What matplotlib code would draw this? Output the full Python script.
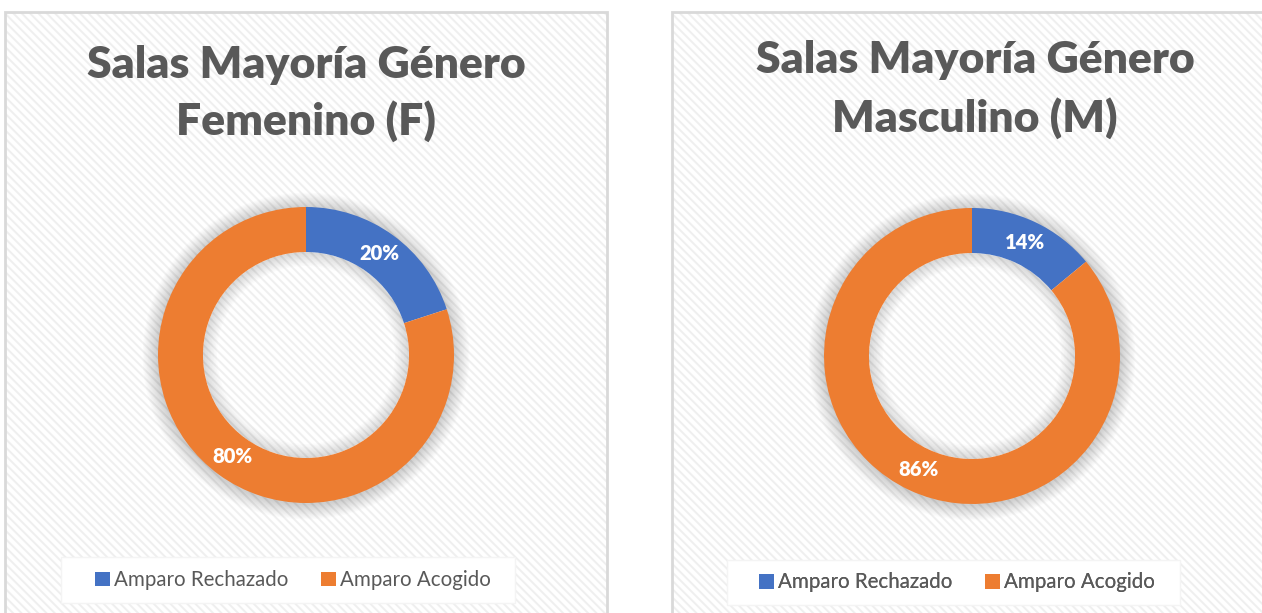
import matplotlib
matplotlib.use("Agg")
import matplotlib.pyplot as plt
from matplotlib.patches import Rectangle, Wedge

# Data
categories = ["Amparo Rechazado", "Amparo Acogido"]
fem_values = [20, 80]
masc_values = [14, 86]
titles = [("Salas Mayoría Género", "Femenino (F)"),
          ("Salas Mayoría Género", "Masculino (M)")]

# Colours
blue = "#4472C4"
orange = "#ED7D31"
text_color = "#595959"
hatch_color = "#efefef"

W, H = 1262, 613
plt.rcParams['font.family'] = ['Lato', 'DejaVu Sans']
plt.rcParams['hatch.linewidth'] = 1.4

fig = plt.figure(figsize=(W / 100, H / 100), dpi=100, facecolor="white")
ax = fig.add_axes([0, 0, 1, 1])


def img_y(y):
    # convert image row (from top) to axes y
    return H - y


# panel layout: borders, donut centre, title baselines, legend box / centre
panels = [
    dict(x0=5, x1=607, cx=306, cy=355, base=(78, 135),
         leg=(61, 515, 557, 603), leg_cx=293,
         values=fem_values, title=titles[0]),
    dict(x0=672, x1=1275, cx=972, cy=356, base=(73, 132),
         leg=(727, 1180, 560, 605), leg_cx=957,
         values=masc_values, title=titles[1]),
]

R_out, ring = 148, 45

for p in panels:
    # hatched chart area
    ax.add_patch(Rectangle((p["x0"], -5), p["x1"] - p["x0"], img_y(12) + 5,
                           facecolor="white", edgecolor=hatch_color,
                           hatch="\\\\\\\\", linewidth=0, zorder=0))
    ax.add_patch(Rectangle((p["x0"], -5), p["x1"] - p["x0"], img_y(12) + 5,
                           facecolor="none", edgecolor="#d9d9d9",
                           linewidth=2, zorder=1))

    cx, cy = p["cx"], img_y(p["cy"])

    # soft shadow outside the ring and just inside the hole
    for i in range(12):
        ax.add_patch(Wedge((cx, cy - 1), R_out + 1 + i * 1.3, 0, 360,
                           width=1 + i * 1.3 + 2,
                           facecolor="#000000", alpha=0.016, linewidth=0, zorder=1.5))
    for i in range(9):
        ax.add_patch(Wedge((cx, cy), R_out - ring, 0, 360, width=2 + i * 1.5,
                           facecolor="#000000", alpha=0.014, linewidth=0, zorder=1.5))

    wedges, _, autotexts = ax.pie(
        p["values"], center=(cx, cy), radius=R_out, startangle=90,
        counterclock=False, colors=[blue, orange],
        autopct="%.0f%%", pctdistance=(R_out - ring / 2) / R_out,
        wedgeprops=dict(width=ring, linewidth=0), frame=True)
    for w in wedges:
        w.set_zorder(3)
    for t in autotexts:
        t.set_color("white")
        t.set_fontsize(14.5)
        t.set_fontweight("heavy")
        t.set_zorder(4)

    # titles
    tx = (p["x0"] + p["x1"]) / 2 if p["x1"] <= W else cx + 3
    for line, b in zip(p["title"], p["base"]):
        ax.text(tx, img_y(b), line, ha="center", va="baseline",
                fontsize=32, fontweight="heavy", color=text_color, zorder=5)

    # legend box
    lx0, lx1, ly0, ly1 = p["leg"]
    ax.add_patch(Rectangle((lx0, img_y(ly1)), lx1 - lx0, ly1 - ly0,
                           facecolor="white", edgecolor="#f4f4f4",
                           linewidth=1, zorder=2))
    leg = ax.legend(wedges, categories, loc="center", ncol=2,
                    bbox_to_anchor=(p["leg_cx"], img_y((ly0 + ly1) / 2)),
                    bbox_transform=ax.transData, frameon=False,
                    fontsize=14.8, labelcolor=text_color,
                    handlelength=0.7, handleheight=0.7, handletextpad=0.2,
                    columnspacing=1.6, borderpad=0)
    leg.set_zorder(6)
    ax.add_artist(leg)

ax.set_xlim(0, W)
ax.set_ylim(0, H)
ax.set_aspect("auto")
ax.axis("off")

fig.savefig("out.png", dpi=100, facecolor="white")
